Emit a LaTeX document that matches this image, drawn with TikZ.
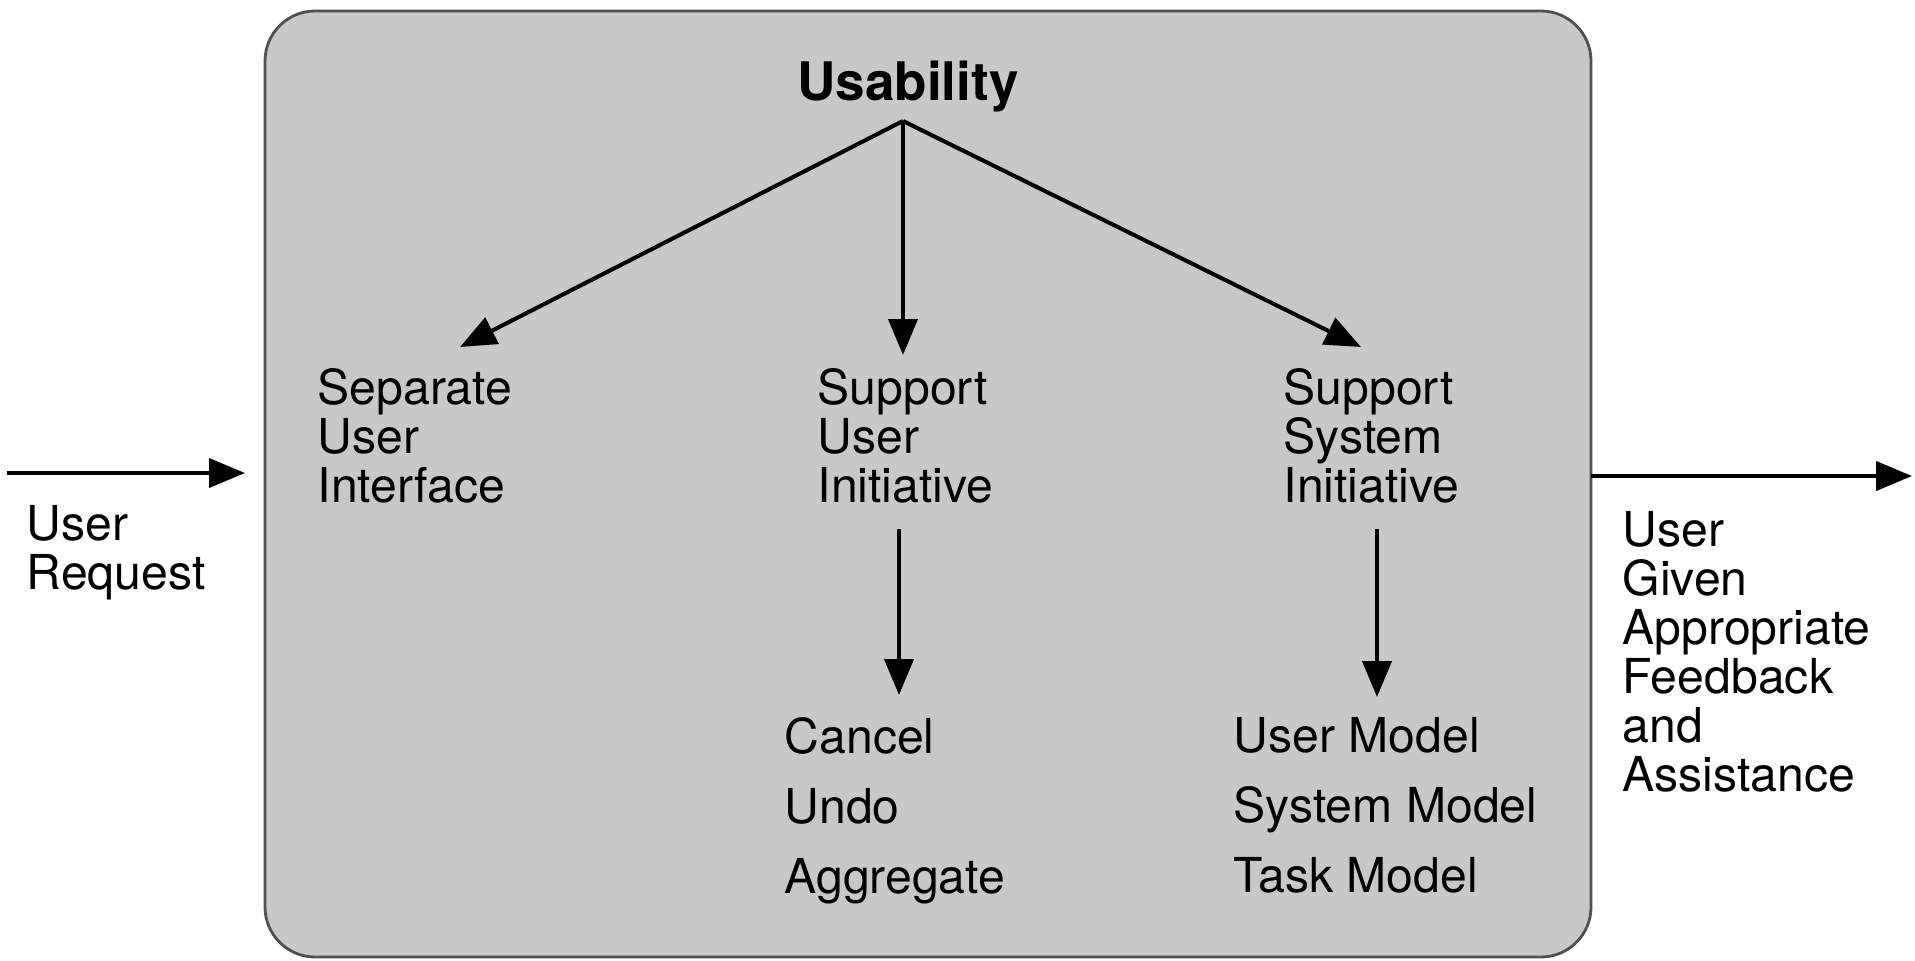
\documentclass[tikz,border=0pt]{standalone}
\usepackage{fontspec}
\setmainfont{TeX Gyre Heros}
\usetikzlibrary{arrows.meta}
\definecolor{panelgray}{RGB}{200,200,200}
\definecolor{panelline}{RGB}{80,80,80}
\begin{document}
\begin{tikzpicture}[x=0.1mm,y=-0.1mm,
  lbl/.style={anchor=north west, inner sep=0pt, align=left, font=\fontsize{13.7}{13.95}\selectfont},
  lst/.style={anchor=north west, inner sep=0pt, align=left, font=\fontsize{13.7}{19.9}\selectfont},
  arr/.style={line width=1.15pt, -{Triangle[length=3.6mm,width=2.9mm]}},
  panel/.style={draw=panelline, line width=0.8pt, fill=panelgray, rounded corners=5mm,
    minimum width=132.6mm, minimum height=94.6mm, inner sep=0pt}]
\useasboundingbox (0,0) rectangle (1915,960);
\node[panel] (box) at (928,484) {};

\node[anchor=base, inner sep=0pt, font=\fontsize{15.1}{18}\selectfont\bfseries] (usab) at (908,100) {Usability};
\coordinate (apex) at (903,121);
\coordinate (tipL) at (460,347);
\coordinate (tipM) at (903,355);
\coordinate (tipR) at (1361,347);

\node[lbl] (sep) at (317,368) {Separate\\User\\Interface};
\node[lbl] (sui) at (817,368) {Support\\User\\Initiative};
\node[lbl] (ssi) at (1283,368) {Support\\System\\Initiative};

\draw[arr] (apex) -- (tipL);
\draw[arr] (apex) -- (tipM);
\draw[arr] (apex) -- (tipR);

\coordinate (mTop) at (899,529);
\coordinate (mEnd) at (899,695);
\coordinate (rTop) at (1377,529);
\coordinate (rEnd) at (1377,697);
\draw[arr] (mTop) -- (mEnd);
\draw[arr] (rTop) -- (rEnd);

\node[lst] (cua) at (784,717) {Cancel\\Undo\\Aggregate};
\node[lst] (models) at (1233,717) {User Model\\System Model\\Task Model};

\coordinate (inStart) at (7,473);
\coordinate (inEnd) at (245,473);
\draw[arr] (inStart) -- (inEnd);
\node[lbl] (ureq) at (26,505) {User\\Request};

\coordinate (outStart) at (1591,476);
\coordinate (outEnd) at (1912,476);
\draw[arr] (outStart) -- (outEnd);
\node[lbl] (ufb) at (1622,511) {User\\Given\\Appropriate\\Feedback\\and\\Assistance};
\end{tikzpicture}
\end{document}
